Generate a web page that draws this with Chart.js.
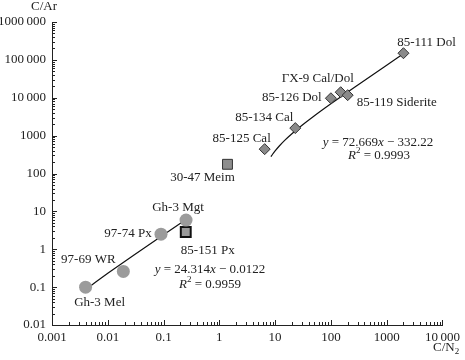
<!DOCTYPE html>
<html>
<head>
<meta charset="utf-8">
<script src="https://cdn.jsdelivr.net/npm/chart.js"></script>
<style>
    body { margin: 0; background: #fff; }
    canvas { display: block; }
</style>
</head>
<body>
<canvas id="ratioChart" width="465" height="360"></canvas>
<script>
// Sample data (C/N2 vs C/Ar)
const sampleNames = ["Gh-3 Mel", "97-69 WR", "97-74 Px", "Gh-3 Mgt", "85-151 Px", "30-47 Meim",
    "85-125 Cal", "85-134 Cal", "85-126 Dol", "ГХ-9 Cal/Dol", "85-119 Siderite", "85-111 Dol"];
const sampleCN2 = [0.004, 0.019, 0.09, 0.253, 0.25, 1.4, 6.5, 23, 100, 150, 200, 2000];
const sampleCAr = [0.1, 0.26, 2.5, 5.9, 2.85, 175, 440, 1580, 9700, 14000, 11700, 150000];
const sampleKind = ["circle", "circle", "circle", "circle", "framed", "square",
    "diamond", "diamond", "diamond", "diamond", "diamond", "diamond"];

// Trend lines
const silicateFitX = [0.004, 0.006, 0.01, 0.03, 0.1, 0.29];
const silicateFitY = [0.085, 0.134, 0.231, 0.717, 2.42, 7.0];
const carbonateFitX = [8.4, 9, 10, 12, 15, 20, 30, 50, 100, 300, 1000, 2000];
const carbonateFitY = [278, 322, 394, 540, 758, 1121, 1848, 3301, 6935, 21470, 72337, 145000];

// Tick labels
const xTicks = [0.001, 0.01, 0.1, 1, 10, 100, 1000, 10000];
const yTicks = [0.01, 0.1, 1, 10, 100, 1000, 10000, 100000, 1000000];

const FONT = '"Liberation Serif", "DejaVu Serif", serif';
const INK = "#222";

// label offsets from each point (px, label centre)
const labelOffsets = [[14, 15], [-35, -12], [-33, -1], [-8, -12], [22, 19], [-25, 13],
    [-23, -11], [-31, -11], [-39, -1], [-23, -14], [49, 7], [23, -11]];

function pick(kind) {
    const pts = [];
    sampleKind.forEach((k, i) => { if (k === kind) pts.push({ x: sampleCN2[i], y: sampleCAr[i] }); });
    return pts;
}

function zipXY(xs, ys) {
    return xs.map((x, i) => ({ x: x, y: ys[i] }));
}

function formatTick(v) {
    if (v >= 10000) return Math.round(v / 1000) + "\u2009000";
    if (v >= 1) return String(Math.round(v));
    return String(parseFloat(v.toPrecision(1)));
}

// draw text runs: [text, style] with style "", "i" or "sup"
function drawRuns(ctx, runs, cx, cy) {
    const fontFor = s => s === "i" ? "italic 13px " + FONT : s === "sup" ? "9px " + FONT : "13px " + FONT;
    let total = 0;
    runs.forEach(r => { ctx.font = fontFor(r[1]); total += ctx.measureText(r[0]).width; });
    let x = cx - total / 2;
    runs.forEach(r => {
        ctx.font = fontFor(r[1]);
        ctx.fillText(r[0], x, r[1] === "sup" ? cy - 5 : cy);
        x += ctx.measureText(r[0]).width;
    });
}

// inward minor / major ticks on both axes
const logTicks = {
    id: "logTicks",
    afterDraw(chart) {
        const { ctx, chartArea: a, scales: { x, y } } = chart;
        ctx.save();
        ctx.strokeStyle = INK;
        ctx.lineWidth = 1;
        ctx.beginPath();
        for (let e = -3; e <= 4; e++) {
            for (let m = 1; m <= 9; m++) {
                const v = m * Math.pow(10, e);
                if (v > x.max * 1.001) break;
                const px = Math.round(x.getPixelForValue(v)) + 0.5;
                const len = m === 1 ? 5 : 3;
                ctx.moveTo(px, a.bottom);
                ctx.lineTo(px, a.bottom - len);
            }
        }
        for (let e = -2; e <= 6; e++) {
            for (let m = 1; m <= 9; m++) {
                const v = m * Math.pow(10, e);
                if (v > y.max * 1.001) break;
                const py = Math.round(y.getPixelForValue(v)) + 0.5;
                const len = m === 1 ? 5 : 3;
                ctx.moveTo(a.left, py);
                ctx.lineTo(a.left + len, py);
            }
        }
        ctx.stroke();
        ctx.restore();
    }
};

// sample names, fit equations and axis titles
const annotations = {
    id: "annotations",
    afterDraw(chart) {
        const { ctx, scales: { x, y } } = chart;
        ctx.save();
        ctx.fillStyle = INK;
        ctx.textBaseline = "middle";
        ctx.textAlign = "center";
        ctx.font = "13px " + FONT;
        sampleNames.forEach((name, i) => {
            const px = x.getPixelForValue(sampleCN2[i]);
            const py = y.getPixelForValue(sampleCAr[i]);
            ctx.fillText(name, px + labelOffsets[i][0], py + labelOffsets[i][1]);
        });

        ctx.textAlign = "left";
        drawRuns(ctx, [["y", "i"], [" = 72.669", ""], ["x", "i"], [" \u2212 332.22", ""]], 378, 143);
        drawRuns(ctx, [["R", "i"], ["2", "sup"], [" = 0.9993", ""]], 379, 156);
        drawRuns(ctx, [["y", "i"], [" = 24.314", ""], ["x", "i"], [" \u2212 0.0122", ""]], 210, 270);
        drawRuns(ctx, [["R", "i"], ["2", "sup"], [" = 0.9959", ""]], 210, 285);

        // axis titles
        ctx.font = "13px " + FONT;
        ctx.textAlign = "center";
        ctx.fillText("C/Ar", 44, 7);
        ctx.textAlign = "left";
        ctx.fillText("C/N", 433, 348);
        const w = ctx.measureText("C/N").width;
        ctx.font = "9px " + FONT;
        ctx.fillText("2", 433 + w, 352);
        ctx.restore();
    }
};

function logAxis(min, max, ticks, isX) {
    return {
        type: "logarithmic",
        min: min,
        max: max,
        afterBuildTicks: scale => { scale.ticks = ticks.map(v => ({ value: v })); },
        afterFit: scale => {
            if (isX) scale.height = 35; else scale.width = 52;
        },
        grid: { display: false, drawTicks: false },
        border: { display: true, color: INK, width: 1 },
        ticks: {
            autoSkip: false,
            maxRotation: 0,
            padding: isX ? 5 : 6,
            color: INK,
            font: { family: FONT, size: 13 },
            callback: v => formatTick(v)
        }
    };
}

const chart = new Chart(document.getElementById("ratioChart"), {
    type: "scatter",
    data: {
        datasets: [
            {
                label: "silicates",
                data: pick("circle"),
                pointStyle: "circle",
                pointRadius: 6.5,
                backgroundColor: "#9b9b9b",
                borderWidth: 0,
                order: 1
            },
            {
                label: "85-151 Px",
                data: pick("framed"),
                pointStyle: "rect",
                pointRadius: 7,
                backgroundColor: "#9a9a9a",
                borderColor: "#111",
                borderWidth: 2,
                order: 1
            },
            {
                label: "Meim",
                data: pick("square"),
                pointStyle: "rect",
                pointRadius: 7,
                backgroundColor: "#8e8e8e",
                borderColor: "#333",
                borderWidth: 1,
                order: 1
            },
            {
                label: "carbonates",
                data: pick("diamond"),
                pointStyle: "rectRot",
                pointRadius: 5.5,
                backgroundColor: "#8a8a8a",
                borderColor: "#333",
                borderWidth: 1,
                order: 1
            },
            {
                label: "silicate fit",
                data: zipXY(silicateFitX, silicateFitY),
                showLine: true,
                pointRadius: 0,
                borderColor: "#111",
                borderWidth: 1.2,
                order: 2
            },
            {
                label: "carbonate fit",
                data: zipXY(carbonateFitX, carbonateFitY),
                showLine: true,
                cubicInterpolationMode: "monotone",
                pointRadius: 0,
                borderColor: "#111",
                borderWidth: 1.2,
                order: 2
            }
        ]
    },
    options: {
        responsive: false,
        animation: false,
        layout: { padding: { left: 0, right: 17, top: 22, bottom: 0 } },
        scales: {
            x: logAxis(0.001, 10000, xTicks, true),
            y: logAxis(0.01, 1000000, yTicks, false)
        },
        plugins: {
            legend: { display: false },
            tooltip: { enabled: false }
        }
    },
    plugins: [logTicks, annotations]
});
</script>
</body>
</html>
